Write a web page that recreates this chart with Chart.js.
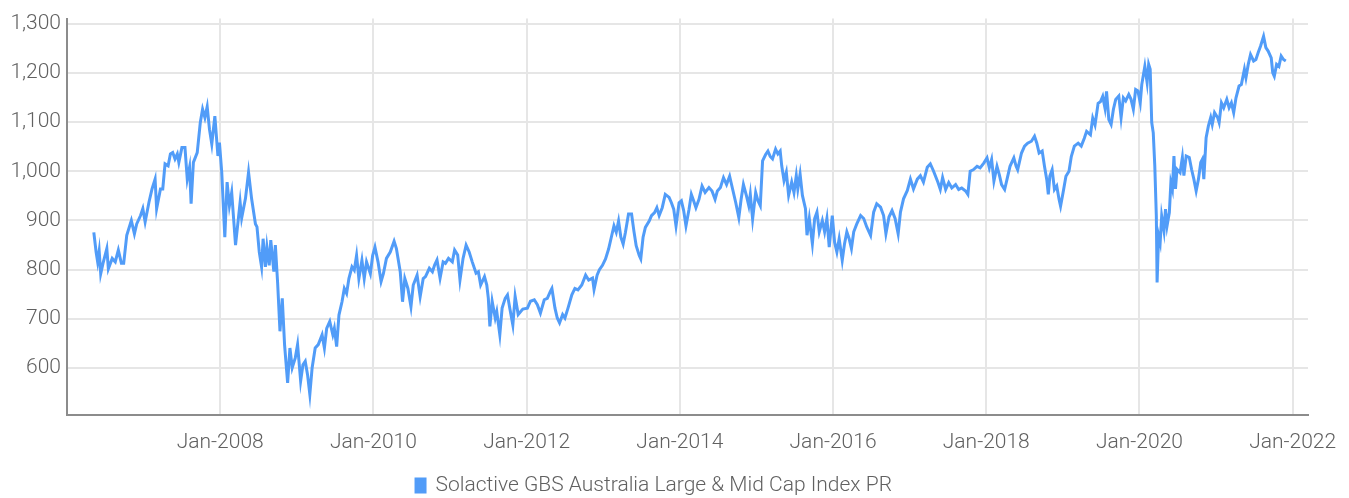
<!DOCTYPE html>
<html>
<head>
<meta charset="utf-8">
<script src="https://cdn.jsdelivr.net/npm/chart.js@4/dist/chart.umd.min.js"></script>
<style>
  html, body { margin: 0; padding: 0; background: #fff; }
  #wrap { width: 1349px; height: 498px; position: relative; }
</style>
</head>
<body>
<div id="wrap"><canvas id="index-chart"></canvas></div>
<script>
// index level, sampled along the time axis (fractional years)
const seriesName = 'Solactive GBS Australia Large & Mid Cap Index PR'

const years = [
  2006.35, 2006.38, 2006.40, 2006.42, 2006.44, 2006.47, 2006.52, 2006.54, 2006.59, 2006.63,
  2006.67, 2006.71, 2006.74, 2006.78, 2006.84, 2006.88, 2006.91, 2006.96, 2006.99, 2007.02,
  2007.07, 2007.11, 2007.15, 2007.17, 2007.22, 2007.25, 2007.28, 2007.32, 2007.35, 2007.38,
  2007.41, 2007.44, 2007.46, 2007.50, 2007.54, 2007.57, 2007.60, 2007.62, 2007.65, 2007.70,
  2007.74, 2007.77, 2007.80, 2007.83, 2007.86, 2007.89, 2007.93, 2007.97, 2007.99, 2008.02,
  2008.06, 2008.09, 2008.12, 2008.15, 2008.20, 2008.26, 2008.28, 2008.33, 2008.37, 2008.41,
  2008.46, 2008.48, 2008.51, 2008.54, 2008.56, 2008.59, 2008.61, 2008.64, 2008.66, 2008.70,
  2008.72, 2008.75, 2008.78, 2008.81, 2008.84, 2008.88, 2008.91, 2008.94, 2008.98, 2009.01,
  2009.05, 2009.08, 2009.11, 2009.14, 2009.17, 2009.20, 2009.24, 2009.28, 2009.33, 2009.36,
  2009.39, 2009.43, 2009.47, 2009.49, 2009.52, 2009.55, 2009.59, 2009.62, 2009.65, 2009.68,
  2009.72, 2009.75, 2009.78, 2009.81, 2009.85, 2009.88, 2009.91, 2009.96, 2009.99, 2010.02,
  2010.06, 2010.10, 2010.13, 2010.17, 2010.22, 2010.27, 2010.30, 2010.35, 2010.38, 2010.41,
  2010.45, 2010.49, 2010.52, 2010.57, 2010.61, 2010.65, 2010.68, 2010.73, 2010.77, 2010.80,
  2010.83, 2010.87, 2010.91, 2010.94, 2010.98, 2011.03, 2011.06, 2011.10, 2011.13, 2011.17,
  2011.21, 2011.25, 2011.29, 2011.34, 2011.37, 2011.40, 2011.45, 2011.48, 2011.50, 2011.52,
  2011.55, 2011.59, 2011.61, 2011.65, 2011.68, 2011.72, 2011.75, 2011.78, 2011.82, 2011.85,
  2011.89, 2011.95, 2012.01, 2012.05, 2012.10, 2012.14, 2012.18, 2012.23, 2012.27, 2012.31,
  2012.33, 2012.37, 2012.40, 2012.43, 2012.47, 2012.50, 2012.54, 2012.59, 2012.63, 2012.67,
  2012.72, 2012.77, 2012.81, 2012.86, 2012.88, 2012.92, 2012.95, 2012.99, 2013.03, 2013.07,
  2013.11, 2013.14, 2013.17, 2013.20, 2013.23, 2013.26, 2013.29, 2013.33, 2013.37, 2013.40,
  2013.43, 2013.47, 2013.49, 2013.52, 2013.55, 2013.60, 2013.63, 2013.67, 2013.70, 2013.73,
  2013.77, 2013.81, 2013.86, 2013.89, 2013.92, 2013.95, 2013.99, 2014.02, 2014.05, 2014.08,
  2014.12, 2014.15, 2014.18, 2014.21, 2014.25, 2014.29, 2014.33, 2014.38, 2014.42, 2014.46,
  2014.49, 2014.53, 2014.57, 2014.61, 2014.65, 2014.69, 2014.73, 2014.77, 2014.80, 2014.83,
  2014.87, 2014.90, 2014.92, 2014.95, 2014.99, 2015.02, 2015.05, 2015.08, 2015.12, 2015.15,
  2015.18, 2015.21, 2015.25, 2015.28, 2015.31, 2015.33, 2015.36, 2015.39, 2015.42, 2015.46,
  2015.49, 2015.52, 2015.54, 2015.57, 2015.60, 2015.64, 2015.66, 2015.69, 2015.73, 2015.76,
  2015.79, 2015.82, 2015.86, 2015.89, 2015.92, 2015.95, 2015.99, 2016.02, 2016.05, 2016.08,
  2016.12, 2016.15, 2016.18, 2016.21, 2016.24, 2016.27, 2016.31, 2016.36, 2016.40, 2016.44,
  2016.49, 2016.53, 2016.57, 2016.62, 2016.66, 2016.69, 2016.73, 2016.77, 2016.81, 2016.85,
  2016.88, 2016.92, 2016.97, 2017.01, 2017.05, 2017.10, 2017.14, 2017.18, 2017.23, 2017.27,
  2017.31, 2017.37, 2017.40, 2017.43, 2017.47, 2017.51, 2017.55, 2017.60, 2017.64, 2017.68,
  2017.73, 2017.76, 2017.79, 2017.83, 2017.88, 2017.92, 2017.97, 2018.01, 2018.04, 2018.07,
  2018.10, 2018.14, 2018.17, 2018.20, 2018.24, 2018.27, 2018.31, 2018.36, 2018.39, 2018.41,
  2018.46, 2018.50, 2018.54, 2018.59, 2018.63, 2018.66, 2018.69, 2018.73, 2018.76, 2018.79,
  2018.81, 2018.83, 2018.86, 2018.89, 2018.92, 2018.95, 2018.97, 2019.01, 2019.04, 2019.08,
  2019.11, 2019.15, 2019.20, 2019.24, 2019.28, 2019.31, 2019.36, 2019.39, 2019.42, 2019.46,
  2019.49, 2019.52, 2019.55, 2019.57, 2019.60, 2019.63, 2019.66, 2019.69, 2019.73, 2019.76,
  2019.79, 2019.82, 2019.86, 2019.89, 2019.92, 2019.95, 2019.98, 2020.01, 2020.03, 2020.07,
  2020.10, 2020.12, 2020.14, 2020.16, 2020.18, 2020.20, 2020.22, 2020.23, 2020.25, 2020.27,
  2020.29, 2020.32, 2020.34, 2020.36, 2020.39, 2020.41, 2020.43, 2020.45, 2020.47, 2020.49,
  2020.53, 2020.56, 2020.58, 2020.61, 2020.65, 2020.68, 2020.71, 2020.74, 2020.77, 2020.80,
  2020.82, 2020.84, 2020.87, 2020.90, 2020.93, 2020.95, 2020.98, 2021.02, 2021.04, 2021.07,
  2021.10, 2021.14, 2021.17, 2021.20, 2021.23, 2021.26, 2021.30, 2021.33, 2021.37, 2021.39,
  2021.42, 2021.45, 2021.49, 2021.52, 2021.55, 2021.58, 2021.62, 2021.65, 2021.68, 2021.72,
  2021.74, 2021.76, 2021.79, 2021.82, 2021.85, 2021.88, 2021.91
]

const values = [
  876, 836, 816, 838, 792, 813, 843, 802, 823, 816,
  840, 813, 813, 870, 900, 873, 893, 910, 924, 897,
  937, 964, 984, 924, 964, 964, 1015, 1011, 1035, 1038,
  1025, 1035, 1018, 1048, 1048, 984, 1008, 934, 1018, 1038,
  1099, 1126, 1109, 1131, 1085, 1055, 1112, 1031, 1058, 998,
  866, 978, 930, 957, 850, 937, 905, 945, 998, 944,
  893, 887, 836, 806, 863, 806, 846, 809, 860, 796,
  850, 772, 675, 742, 648, 570, 641, 601, 621, 648,
  574, 607, 614, 587, 547, 601, 641, 648, 668, 641,
  681, 695, 668, 681, 644, 708, 735, 762, 752, 782,
  806, 799, 829, 782, 819, 782, 816, 792, 829, 846,
  816, 776, 792, 823, 836, 858, 843, 796, 735, 782,
  762, 725, 769, 789, 745, 782, 786, 803, 796, 810,
  820, 783, 816, 813, 823, 816, 840, 830, 779, 823,
  850, 836, 816, 793, 796, 769, 786, 769, 742, 685,
  736, 702, 715, 668, 722, 742, 749, 722, 688, 746,
  709, 720, 722, 736, 739, 729, 712, 739, 742, 756,
  762, 722, 702, 692, 709, 702, 722, 749, 762, 759,
  769, 789, 779, 783, 760, 789, 800, 809, 822, 842,
  869, 889, 876, 899, 866, 852, 876, 913, 913, 879,
  849, 829, 822, 866, 886, 899, 910, 916, 926, 910,
  926, 953, 947, 936, 923, 889, 936, 940, 920, 889,
  923, 953, 940, 926, 943, 970, 957, 967, 960, 943,
  960, 967, 987, 973, 990, 963, 936, 906, 943, 973,
  950, 930, 953, 903, 957, 940, 930, 1021, 1034, 1041,
  1030, 1025, 1045, 1035, 1041, 1011, 981, 998, 951, 978,
  957, 991, 964, 994, 951, 924, 870, 904, 853, 904,
  917, 877, 900, 877, 904, 846, 910, 856, 836, 863,
  819, 853, 877, 863, 843, 877, 893, 910, 904, 887,
  870, 917, 934, 927, 910, 873, 907, 920, 904, 873,
  917, 944, 961, 984, 964, 984, 991, 978, 1008, 1015,
  1001, 977, 963, 987, 963, 977, 966, 973, 963, 966,
  960, 953, 1000, 1003, 1010, 1007, 1017, 1027, 1007, 1024,
  980, 1010, 993, 973, 963, 983, 1010, 1027, 1010, 1003,
  1037, 1051, 1057, 1061, 1071, 1057, 1037, 1041, 1010, 983,
  953, 990, 1003, 963, 970, 943, 929, 963, 990, 1000,
  1030, 1051, 1057, 1051, 1067, 1081, 1074, 1108, 1094, 1138,
  1141, 1152, 1128, 1162, 1105, 1095, 1126, 1146, 1153, 1109,
  1149, 1143, 1156, 1146, 1126, 1166, 1163, 1139, 1176, 1213,
  1180, 1217, 1207, 1099, 1078, 1011, 909, 774, 869, 855,
  909, 879, 923, 889, 916, 977, 964, 1031, 964, 1004,
  997, 1028, 991, 1031, 1028, 1004, 984, 960, 984, 1018,
  1024, 984, 1068, 1092, 1109, 1095, 1119, 1109, 1099, 1139,
  1129, 1146, 1129, 1139, 1119, 1149, 1173, 1176, 1207, 1190,
  1217, 1237, 1224, 1227, 1241, 1254, 1274, 1251, 1244, 1230,
  1200, 1193, 1217, 1213, 1234, 1227, 1224
]

const yTicks = [600, 700, 800, 900, 1000, 1100, 1200, 1300]
const xTicks = [2008, 2010, 2012, 2014, 2016, 2018, 2020, 2022]

const lineColor = '#519cf8'
const gridColor = '#e6e6e6'
const axisColor = '#8c8c8c'
const textColor = '#616161'
const fontFamily = "Roboto, 'Noto Sans', sans-serif"
const labelFont = { family: fontFamily, size: 21, weight: '300' }

const points = years.map((yr, i) => ({ x: yr, y: values[i] }))

const ctx = document.getElementById('index-chart')

new Chart(ctx, {
  type: 'line',
  data: {
    datasets: [{
      label: seriesName,
      data: points,
      borderColor: lineColor,
      backgroundColor: lineColor,
      borderWidth: 3,
      pointRadius: 0,
      tension: 0,
      fill: false
    }]
  },
  options: {
    responsive: true,
    maintainAspectRatio: false,
    animation: false,
    devicePixelRatio: 1,
    layout: { padding: { top: 15, right: 41, bottom: -8, left: 0 } },
    plugins: {
      tooltip: { enabled: false },
      legend: {
        display: true,
        position: 'bottom',
        labels: {
          boxWidth: 9,
          boxHeight: 13,
          padding: 4,
          color: textColor,
          font: labelFont
        }
      }
    },
    scales: {
      x: {
        type: 'linear',
        min: 2006,
        max: 2022.2,
        afterBuildTicks: (axis) => { axis.ticks = xTicks.map(v => ({ value: v })) },
        afterFit: (axis) => {
          axis.height = 56
          // let the last label hang into the right margin
          axis.paddingLeft = 0
          axis.paddingRight = 0
        },
        border: { display: true, color: axisColor, width: 2 },
        grid: { color: gridColor, lineWidth: 2, drawTicks: false },
        ticks: {
          padding: 15,
          maxRotation: 0,
          color: textColor,
          font: labelFont,
          callback: (v) => 'Jan-' + v
        }
      },
      y: {
        min: 505,
        max: 1310,
        afterBuildTicks: (axis) => { axis.ticks = yTicks.map(v => ({ value: v })) },
        afterFit: (axis) => { axis.width = 67 },
        border: { display: true, color: axisColor, width: 2 },
        grid: { color: gridColor, lineWidth: 2, drawTicks: false },
        ticks: {
          padding: 6,
          color: textColor,
          font: labelFont,
          callback: (v) => v.toLocaleString('en-US')
        }
      }
    }
  }
})
</script>
</body>
</html>
